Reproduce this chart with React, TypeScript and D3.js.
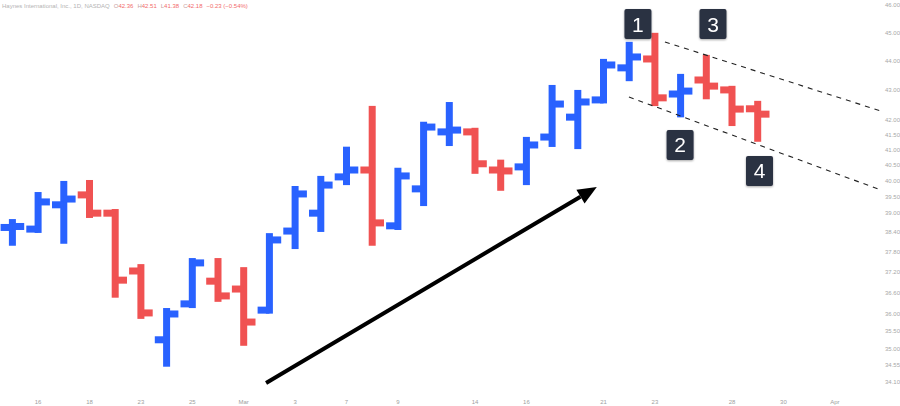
import React from "react";
import * as d3 from "d3";

// ---- Data (daily OHLC, Haynes International, Feb 15 – Mar 29 2022) ----
const dates = [
  "Feb 15", "Feb 16", "Feb 17", "Feb 18", "Feb 22", "Feb 23", "Feb 24", "Feb 25", "Feb 28",
  "Mar 1", "Mar 2", "Mar 3", "Mar 4", "Mar 7", "Mar 8", "Mar 9", "Mar 10", "Mar 11",
  "Mar 14", "Mar 15", "Mar 16", "Mar 17", "Mar 18", "Mar 21", "Mar 22", "Mar 23",
  "Mar 24", "Mar 25", "Mar 28", "Mar 29",
];
const opens = [
  38.55, 38.5, 39.25, 39.56, 38.99, 37.24, 35.26, 36.28, 36.94, 36.71,
  36.1, 38.44, 38.99, 40.13, 40.35, 38.6, 39.75, 41.59, 41.59, 40.35,
  40.45, 41.42, 42.08, 42.66, 43.76, 44.07, 42.86, 43.34, 43.0, 42.36,
];
const highs = [
  38.7, 39.54, 39.89, 39.92, 39.01, 37.34, 36.06, 37.52, 37.52, 37.25,
  38.27, 39.73, 40.05, 40.99, 42.34, 40.31, 41.81, 42.47, 41.61, 40.57,
  41.31, 43.05, 42.88, 43.95, 44.55, 44.87, 43.43, 44.09, 43.02, 42.51,
];
const lows = [
  38.1, 38.49, 38.16, 38.95, 36.56, 35.95, 34.61, 36.26, 36.44, 35.19,
  36.1, 38.0, 38.52, 39.98, 38.1, 38.58, 39.32, 41.24, 40.34, 39.8,
  39.98, 41.21, 41.14, 42.66, 43.42, 42.57, 42.19, 42.8, 41.9, 41.38,
];
const closes = [
  38.58, 39.34, 39.43, 38.99, 36.97, 36.02, 35.99, 37.48, 36.51, 35.76,
  38.17, 39.59, 39.87, 40.35, 38.69, 40.16, 41.75, 41.65, 40.55, 40.32,
  41.16, 42.52, 42.59, 43.86, 44.14, 42.73, 42.96, 43.13, 42.35, 42.18,
];

// x axis: trading-day index of each label (day 0 = Feb 15), up to Apr 1 (index 32)
const xTickIndex = [1, 3, 5, 7, 9, 11, 13, 15, 18, 20, 23, 25, 28, 30, 32];
const xTickLabels = ["16", "18", "23", "25", "Mar", "3", "7", "9", "14", "16", "21", "23", "28", "30", "Apr"];
const yTicks = [46, 45, 44, 43, 42, 41.5, 41, 40.5, 40, 39.5, 39, 38.4, 37.8, 37.2, 36.6, 36, 35.5, 35, 34.55, 34.1];

// annotations in (trading-day index, price)
const arrowFrom = [9.87, 34.07];
const arrowTo = [22.74, 39.81];
const channelUpper = [[25.39, 44.67], [34.54, 42.08]];
const channelLower = [[23.99, 42.76], [34.54, 39.49]];
const markerNums = ["1", "2", "3", "4"];
const markerIdx = [24.34, 25.98, 27.26, 29.07];
const markerPrice = [45.31, 41.16, 45.31, 40.32];

const W = 900;
const H = 406;
const BLUE = "#2962ff";
const RED = "#f05252";

export default function App() {
  const x = d3.scaleLinear().domain([0, 32]).range([12.4, 834.8]);
  const y = d3.scaleLog().domain([34.1, 46]).range([381.9, 5]);
  const bw = 7; // stroke thickness
  const tick = 11.8; // tick length from centre

  // arrow geometry
  const ax1 = x(arrowFrom[0]), ay1 = y(arrowFrom[1]);
  const ax2 = x(arrowTo[0]), ay2 = y(arrowTo[1]);
  const ang = Math.atan2(ay2 - ay1, ax2 - ax1);
  const hl = 19, hw = 8;
  const bx = ax2 - hl * Math.cos(ang), by = ay2 - hl * Math.sin(ang);
  const head = [
    [ax2, ay2],
    [bx + hw * Math.sin(ang), by - hw * Math.cos(ang)],
    [bx - hw * Math.sin(ang), by + hw * Math.cos(ang)],
  ];

  const font = "'Liberation Sans', Arial, sans-serif";

  return (
    <svg
      width={W}
      height={H}
      style={{ position: "absolute", left: 0, top: 0, background: "#fff" }}
      fontFamily={font}
    >
      <defs>
        <clipPath id="plot">
          <rect x={0} y={0} width={880} height={H} />
        </clipPath>
        <filter id="shadow" x="-30%" y="-30%" width="160%" height="160%">
          <feDropShadow dx="0" dy="1" stdDeviation="1.2" floodColor="#000" floodOpacity="0.35" />
        </filter>
      </defs>
      <rect x={0} y={0} width={W} height={H} fill="#fff" />

      {/* header */}
      <text x={2} y={8} fontSize={6} fill="#b4b4b4">
        <tspan>Haynes International, Inc., 1D, NASDAQ</tspan>
        <tspan dx={4} fill="#c8a0a0">O</tspan>
        <tspan fill="#f26b6b">{opens[29].toFixed(2)}</tspan>
        <tspan dx={4} fill="#c8a0a0">H</tspan>
        <tspan fill="#f26b6b">{highs[29].toFixed(2)}</tspan>
        <tspan dx={4} fill="#c8a0a0">L</tspan>
        <tspan fill="#f26b6b">{lows[29].toFixed(2)}</tspan>
        <tspan dx={4} fill="#c8a0a0">C</tspan>
        <tspan fill="#f26b6b">{closes[29].toFixed(2)}</tspan>
        <tspan dx={4} fill="#f26b6b">−0.23 (−0.54%)</tspan>
      </text>

      <g clipPath="url(#plot)">
        {/* bars */}
        {dates.map((d, i) => {
          const cx = x(i);
          const up = closes[i] >= opens[i];
          const col = up ? BLUE : RED;
          return (
            <g key={d} fill={col}>
              <rect x={cx - bw / 2} y={y(highs[i]) - bw / 2} width={bw} height={y(lows[i]) - y(highs[i]) + bw} />
              <rect x={cx - tick} y={y(opens[i]) - bw / 2} width={tick} height={bw} />
              <rect x={cx} y={y(closes[i]) - bw / 2} width={tick} height={bw} />
            </g>
          );
        })}

        {/* channel */}
        {[channelUpper, channelLower].map((c, k) => (
          <line
            key={k}
            x1={x(c[0][0])}
            y1={y(c[0][1])}
            x2={x(c[1][0])}
            y2={y(c[1][1])}
            stroke="#222"
            strokeWidth={1.1}
            strokeDasharray="5 5"
          />
        ))}

        {/* arrow */}
        <line x1={ax1} y1={ay1} x2={bx} y2={by} stroke="#000" strokeWidth={4} />
        <polygon points={head.map((p) => p.join(",")).join(" ")} fill="#000" />
      </g>

      {/* numbered markers */}
      {markerNums.map((n, k) => {
        const cx = x(markerIdx[k]);
        const cy = y(markerPrice[k]);
        return (
          <g key={n} filter="url(#shadow)">
            <rect x={cx - 13.5} y={cy - 15} width={27} height={30} rx={2} fill="#2a3142" />
            <text x={cx} y={cy + 7.5} textAnchor="middle" fontSize={21} fill="#fff" fontFamily="'Liberation Sans', Arial, sans-serif">
              {n}
            </text>
          </g>
        );
      })}

      {/* y axis labels */}
      {yTicks.map((t) => (
        <text key={t} x={885} y={y(t)} dy="0.35em" fontSize={6} fill="#a8a8a8">
          {t.toFixed(2)}
        </text>
      ))}

      {/* x axis labels */}
      {xTickIndex.map((ix, k) => (
        <text key={ix} x={x(ix)} y={404} textAnchor="middle" fontSize={6} fill="#a0a0a0">
          {xTickLabels[k]}
        </text>
      ))}
    </svg>
  );
}
